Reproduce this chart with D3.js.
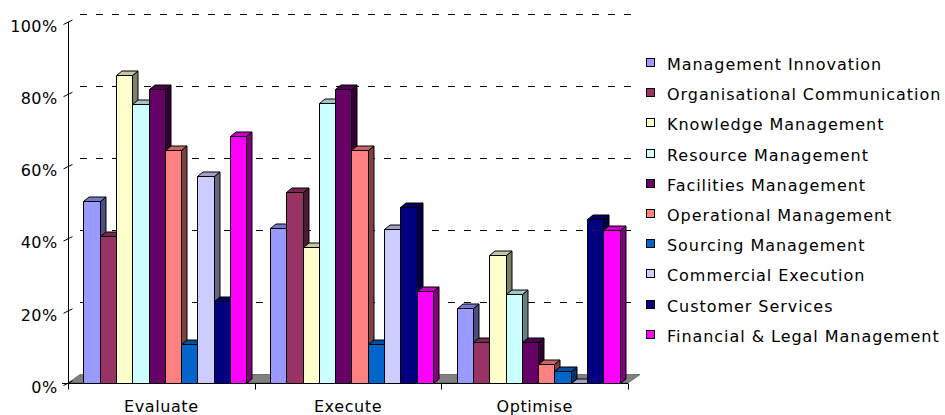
<!DOCTYPE html>
<html>
<head>
<meta charset="utf-8">
<script src="https://cdn.jsdelivr.net/npm/d3@7"></script>
<style>
    body { margin: 0; background: #fff; }
    text { font-family: "DejaVu Sans", Verdana, sans-serif; font-size: 16px; fill: #000; }
</style>
</head>
<body>
<div id="chart"></div>
<script>
// Data (percent)
var categories = ["Evaluate", "Execute", "Optimise"];
var seriesNames = [
    "Management Innovation",
    "Organisational Communication",
    "Knowledge Management",
    "Resource Management",
    "Facilities Management",
    "Operational Management",
    "Sourcing Management",
    "Commercial Execution",
    "Customer Services",
    "Financial & Legal Management"
];
var seriesColors = ["#9999ff", "#993366", "#ffffcc", "#ccffff", "#660066",
                    "#ff8080", "#0066cc", "#ccccff", "#000080", "#ff00ff"];
var evaluate = [50.4, 40.7, 85.3, 77.3, 81.4, 64.5, 10.8, 57.3, 22.7, 68.4];
var execute  = [42.8, 52.8, 37.6, 77.6, 81.4, 64.5, 10.7, 42.7, 48.8, 25.6];
var optimise = [20.7, 11.4, 35.5, 24.6, 11.4, 5.4, 3.3, 0, 45.4, 42.5];
var yTicks = [0, 20, 40, 60, 80, 100];

var values = [evaluate, execute, optimise];

drawChart();

function shade(color, k) {
    var c = d3.rgb(color);
    return d3.rgb(c.r * k, c.g * k, c.b * k).formatHex();
}

// snap to the pixel grid so 1px strokes stay crisp
function px(v) {
    return Math.round(v) + 0.5;
}

function drawChart() {
    var width = 945, height = 415;
    var plot = { left: 68, right: 628, top: 22, bottom: 383 };
    var depth = { dx: 12, dy: -8.5 };     // floor / wall depth
    var barDepth = { dx: 5.5, dy: -4.5 }; // bar side/top depth

    var svg = d3.select("#chart").append("svg")
        .attr("width", width)
        .attr("height", height);

    var x = d3.scaleBand()
        .domain(categories)
        .range([plot.left, plot.right]);

    var xInner = d3.scaleBand()
        .domain(d3.range(seriesNames.length))
        .range([15.3, 15.3 + 163]);

    var y = d3.scaleLinear()
        .domain([0, 100])
        .range([plot.bottom, plot.top]);

    // back wall gridlines (dashed)
    svg.append("g").selectAll("line")
        .data(yTicks.filter(function (d) { return d > 0; }))
        .enter().append("line")
        .attr("x1", plot.left + depth.dx)
        .attr("x2", plot.right + depth.dx)
        .attr("y1", function (d) { return px(y(d) + depth.dy); })
        .attr("y2", function (d) { return px(y(d) + depth.dy); })
        .attr("stroke", "#000")
        .attr("stroke-width", 1)
        .attr("stroke-dasharray", "7,9");

    // floor
    svg.append("path")
        .attr("d", "M" + plot.left + "," + plot.bottom +
            "L" + plot.right + "," + plot.bottom +
            "L" + (plot.right + depth.dx) + "," + (plot.bottom + depth.dy) +
            "L" + (plot.left + depth.dx) + "," + (plot.bottom + depth.dy) + "Z")
        .attr("fill", "#808080")
        .attr("stroke", "#404040")
        .attr("stroke-width", 0.6);

    // y axis
    var yAxis = svg.append("g")
        .attr("class", "y axis")
        .attr("transform", "translate(" + px(plot.left) + ",0)")
        .call(d3.axisLeft(y)
            .tickValues(yTicks)
            .tickSize(0)
            .tickPadding(11)
            .tickFormat(function (d) { return d + "%"; }));
    yAxis.select(".domain").remove();
    yAxis.selectAll("text")
        .attr("font-size", null)
        .attr("font-family", null)
        .attr("letter-spacing", "0.4px")
        .attr("dy", "0.58em");
    yAxis.selectAll(".tick").append("line")
        .attr("x1", -5).attr("y1", 2)
        .attr("x2", 4).attr("y2", -2.5)
        .attr("stroke", "#000");
    svg.append("line")
        .attr("x1", px(plot.left)).attr("x2", px(plot.left))
        .attr("y1", y(100)).attr("y2", plot.bottom)
        .attr("stroke", "#000");

    // x axis
    var xAxis = svg.append("g")
        .attr("class", "x axis")
        .attr("transform", "translate(0," + px(plot.bottom) + ")")
        .call(d3.axisBottom(x).tickSize(0).tickPadding(20));
    xAxis.select(".domain").attr("d", "M" + (plot.left - 6) + ",0H" + plot.right)
        .attr("stroke", "#000");
    xAxis.selectAll("text")
        .attr("font-size", null)
        .attr("font-family", null)
        .attr("letter-spacing", "0.6px")
        .attr("dy", "0.55em");
    xAxis.selectAll("line.bound")
        .data([plot.left].concat(categories.map(function (c) { return x(c) + x.bandwidth(); })))
        .enter().append("line")
        .attr("class", "bound")
        .attr("x1", function (d) { return px(d); })
        .attr("x2", function (d) { return px(d); })
        .attr("y1", 0).attr("y2", 6)
        .attr("stroke", "#000");

    // 3D bars, drawn left to right so the next front covers the previous side
    var bars = svg.append("g").attr("class", "bars");
    categories.forEach(function (cat, ci) {
        seriesNames.forEach(function (name, si) {
            var v = values[ci][si];
            var x0 = px(x(cat) + xInner(si));
            var x1 = px(x(cat) + xInner(si) + xInner.bandwidth());
            var y0 = px(y(v)), yb = px(y(0));
            var c = seriesColors[si];
            var g = bars.append("g");

            g.append("path")
                .attr("d", "M" + x1 + "," + yb +
                    "L" + (x1 + barDepth.dx) + "," + (yb + barDepth.dy) +
                    "L" + (x1 + barDepth.dx) + "," + (y0 + barDepth.dy) +
                    "L" + x1 + "," + y0 + "Z")
                .attr("fill", shade(c, 0.5));
            g.append("path")
                .attr("d", "M" + x0 + "," + y0 +
                    "L" + (x0 + barDepth.dx) + "," + (y0 + barDepth.dy) +
                    "L" + (x1 + barDepth.dx) + "," + (y0 + barDepth.dy) +
                    "L" + x1 + "," + y0 + "Z")
                .attr("fill", shade(c, 0.78));
            g.append("rect")
                .attr("x", x0).attr("y", y0)
                .attr("width", x1 - x0).attr("height", yb - y0)
                .attr("fill", c);
            g.selectAll("path, rect")
                .attr("stroke", "#000")
                .attr("stroke-width", 1)
                .attr("stroke-linejoin", "round");
        });
    });

    // legend
    var legend = svg.append("g")
        .attr("class", "legend")
        .attr("transform", "translate(646,0)");
    var item = legend.selectAll("g")
        .data(seriesNames)
        .enter().append("g")
        .attr("transform", function (d, i) { return "translate(0," + Math.round(70 + i * 30.2) + ")"; });
    item.append("rect")
        .attr("x", 0.5).attr("y", -11.5)
        .attr("width", 8).attr("height", 8)
        .attr("fill", function (d, i) { return seriesColors[i]; })
        .attr("stroke", "#000");
    item.append("text")
        .attr("x", 21)
        .attr("letter-spacing", "0.95px")
        .text(function (d) { return d; });
}
</script>
</body>
</html>
